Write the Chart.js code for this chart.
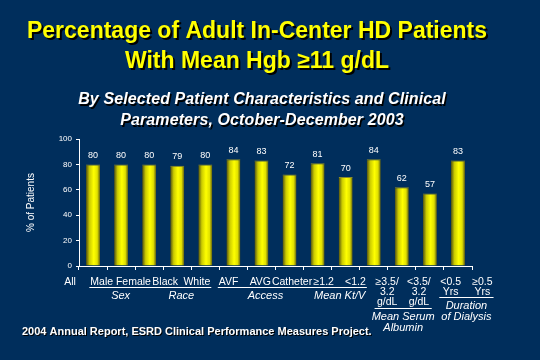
<!DOCTYPE html>
<html>
<head>
<meta charset="utf-8">
<script src="https://cdn.jsdelivr.net/npm/chart.js@4"></script>
<style>
  html, body { margin: 0; padding: 0; background: #002e5c; }
  #wrap { width: 540px; height: 360px; }
</style>
</head>
<body>
<div id="wrap"><canvas id="chart" width="540" height="360"></canvas></div>
<script>
const CATEGORIES = ['All','Male','Female','Black','White','AVF','AVG','Catheter','≥1.2','<1.2','≥3.5/3.2 g/dL','<3.5/3.2 g/dL','<0.5 Yrs','≥0.5 Yrs'];
const LABEL_LINES = [['All'],['Male'],['Female'],['Black'],['White'],['AVF'],['AVG'],['Catheter'],['≥1.2'],['<1.2'],['≥3.5/','3.2','g/dL'],['<3.5/','3.2','g/dL'],['<0.5','Yrs'],['≥0.5','Yrs']];
const PERCENTS   = [80, 80, 80, 79, 80, 84, 83, 72, 81, 70, 84, 62, 57, 83];
const Y_TICKS    = [0, 20, 40, 60, 80, 100];
// groups: caption lines + first/last category index
const GROUP_NAMES  = [['Sex'], ['Race'], ['Access'], ['Mean Kt/V'], ['Mean Serum','Albumin'], ['Duration','of Dialysis']];
const GROUP_RANGES = [[1,2], [3,4], [5,7], [8,9], [10,11], [12,13]];

const TITLE    = ['Percentage of Adult In-Center HD Patients', 'With Mean Hgb ≥11 g/dL'];
const SUBTITLE = ['By Selected Patient Characteristics and Clinical', 'Parameters, October-December 2003'];
const FOOTNOTE = '2004 Annual Report, ESRD Clinical Performance Measures Project.';

const FONT = "'Liberation Sans', Arial, sans-serif";

// cylinder-like fill for each bar, computed from the x scale
function barFill(ctx) {
  const chart = ctx.chart;
  const xs = chart.scales.x;
  if (!xs || !chart.chartArea) return '#ffff00';
  const cx = xs.getPixelForValue(ctx.dataIndex);
  const w = xs.width / CATEGORIES.length * 0.5;
  const g = chart.ctx.createLinearGradient(cx - w / 2, 0, cx + w / 2, 0);
  g.addColorStop(0, '#4e4e12');
  g.addColorStop(0.25, '#cccc00');
  g.addColorStop(0.55, '#ffff00');
  g.addColorStop(0.8, '#e0e000');
  g.addColorStop(1, '#5a5a14');
  return g;
}

function shadowText(c, txt, x, y, color, off) {
  c.fillStyle = '#000';
  c.fillText(txt, x + off, y + off);
  c.fillStyle = color;
  c.fillText(txt, x, y);
}

const decor = {
  id: 'decor',
  afterDraw(chart) {
    const c = chart.ctx;
    const xs = chart.scales.x;
    const meta = chart.getDatasetMeta(0);
    c.save();

    // titles
    c.textAlign = 'center';
    c.textBaseline = 'middle';
    c.font = 'bold 23px ' + FONT;
    shadowText(c, TITLE[0], 257, 32, '#ffff00', 2);
    shadowText(c, TITLE[1], 257, 62, '#ffff00', 2);
    c.font = 'italic bold 16px ' + FONT;
    c.letterSpacing = '0.1px';
    shadowText(c, SUBTITLE[0], 262, 100, '#ffffff', 1.5);
    shadowText(c, SUBTITLE[1], 262, 121, '#ffffff', 1.5);
    c.letterSpacing = '0px';

    // value labels above bars
    c.font = '9px ' + FONT;
    c.fillStyle = '#ffffff';
    meta.data.forEach((bar, i) => {
      c.fillText(String(PERCENTS[i]), bar.x, bar.y - 9);
    });

    // category labels (spread wider than the bars, as on the slide)
    const step = xs.width / CATEGORIES.length * 1.13;
    const labelX = i => xs.left - 9 + i * step;
    const row0 = xs.bottom + 12;
    const lh = 10.3;
    c.font = '10.5px ' + FONT;
    LABEL_LINES.forEach((lines, i) => {
      lines.forEach((t, k) => c.fillText(t, labelX(i), row0 + k * lh));
    });

    // group underlines and captions
    c.strokeStyle = '#ffffff';
    c.lineWidth = 1;
    GROUP_RANGES.forEach(([a, b], gi) => {
      let x0 = Infinity, x1 = -Infinity, n = 1;
      for (let i = a; i <= b; i++) {
        LABEL_LINES[i].forEach(t => {
          const w = c.measureText(t).width;
          x0 = Math.min(x0, labelX(i) - w / 2);
          x1 = Math.max(x1, labelX(i) + w / 2);
        });
        n = Math.max(n, LABEL_LINES[i].length);
      }
      const uy = Math.round(row0 + (n - 1) * lh + 5) + 0.5;
      c.beginPath();
      c.moveTo(x0 - 1, uy);
      c.lineTo(x1 + 1, uy);
      c.stroke();
      c.font = 'italic 11px ' + FONT;
      GROUP_NAMES[gi].forEach((t, k) => c.fillText(t, (x0 + x1) / 2, uy + 8.5 + k * 10.5));
      c.font = '10.5px ' + FONT;
    });

    // footnote
    c.textAlign = 'left';
    c.font = 'bold 11px ' + FONT;
    shadowText(c, FOOTNOTE, 22, 332, '#ffffff', 1);
    c.restore();
  }
};

new Chart(document.getElementById('chart'), {
  type: 'bar',
  data: {
    labels: CATEGORIES,
    datasets: [{
      data: PERCENTS,
      backgroundColor: barFill,
      borderColor: '#8c8c2a',
      borderWidth: { top: 1, left: 0, right: 0, bottom: 0 },
      borderSkipped: false,
      barPercentage: 0.5,
      categoryPercentage: 1
    }]
  },
  options: {
    responsive: false,
    animation: false,
    layout: { padding: { top: 139, right: 68, bottom: 90, left: 0 } },
    plugins: { legend: { display: false }, tooltip: { enabled: false } },
    scales: {
      x: {
        grid: { offset: true, drawOnChartArea: false, drawTicks: true, tickLength: 4, color: '#ffffff' },
        border: { color: '#ffffff', width: 1 },
        ticks: { display: false },
        afterFit: s => { s.height = 4; }
      },
      y: {
        min: 0, max: 100,
        afterBuildTicks: s => { s.ticks = Y_TICKS.map(v => ({ value: v })); },
        grid: { drawOnChartArea: false, drawTicks: true, tickLength: 3, color: '#ffffff' },
        border: { color: '#ffffff', width: 1 },
        ticks: { color: '#ffffff', font: { size: 8, family: FONT }, padding: 4 },
        title: { display: true, text: '% of Patients', color: '#ffffff', font: { size: 10, family: FONT }, padding: { top: 25, bottom: 0 } },
        afterFit: s => { s.width = 79; }
      }
    }
  },
  plugins: [decor]
});
</script>
</body>
</html>
